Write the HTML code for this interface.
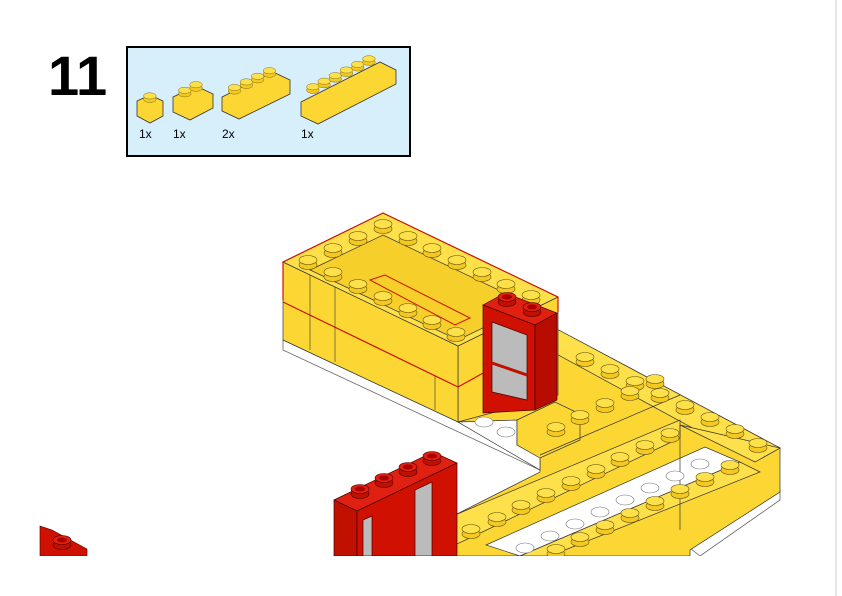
<!DOCTYPE html>
<html><head><style>
html,body{margin:0;padding:0;background:#fff;}
svg{display:block}
text{font-family:"Liberation Sans",sans-serif}
</style></head><body>
<svg width="842" height="596" viewBox="0 0 842 596" xmlns="http://www.w3.org/2000/svg">
<defs>
<g id="s"><rect x="-9" y="-3" width="18" height="5" fill="#f4c821"/><ellipse cx="0" cy="2" rx="9" ry="4.5" fill="#f4c821" stroke="#6b5a10" stroke-width="0.6"/><ellipse cx="0" cy="-3" rx="9" ry="4.5" fill="#fde04a" stroke="#6b5a10" stroke-width="0.6"/></g>
<g id="w"><ellipse cx="0" cy="0" rx="9" ry="5" fill="#fff" stroke="#777" stroke-width="0.6"/></g>
<g id="r"><rect x="-9" y="-3" width="18" height="5" fill="#c01000"/><ellipse cx="0" cy="2" rx="9" ry="4.5" fill="#c01000" stroke="#500" stroke-width="0.6"/><ellipse cx="0" cy="-3" rx="9" ry="4.5" fill="#e02010" stroke="#500" stroke-width="0.6"/><ellipse cx="0" cy="-3" rx="5" ry="2.5" fill="#a00" /></g>
</defs>
<line x1="836" y1="0" x2="836" y2="596" stroke="#ddd" stroke-width="1.5"/>

<text x="48" y="95" font-size="56" font-weight="bold">11</text>
<rect x="127" y="47" width="283" height="109" fill="#d7eefb" stroke="#000" stroke-width="2"/>
<g stroke="#333" stroke-width="0.8" fill="#fcd733">
<polygon points="137,101 150,95 163,101 163,116 150,123 137,116"/>
<polygon points="173,97 196,86 213,94 213,108 190,120 173,112"/>
<polygon points="222,97 273,72 290,80 290,94 239,119 222,111"/>
<polygon points="301,102 380,62 396,70 396,84 318,124 301,116"/>
</g>
<g transform="scale(0.7)">
<use href="#s" x="214" y="140"/><use href="#s" x="264" y="132"/><use href="#s" x="280" y="124"/>
<use href="#s" x="335" y="128"/><use href="#s" x="352" y="120"/><use href="#s" x="368" y="112"/><use href="#s" x="385" y="104"/>
<use href="#s" x="447" y="127"/><use href="#s" x="463" y="119"/><use href="#s" x="479" y="111"/><use href="#s" x="495" y="103"/><use href="#s" x="511" y="95"/><use href="#s" x="527" y="87"/>
</g>
<g font-size="12"><text x="139" y="138">1x</text><text x="173" y="138">1x</text><text x="222" y="138">2x</text><text x="301" y="138">1x</text></g>

<!-- base plate -->
<polygon points="283,340 458,422 540,462 540,470 283,350" fill="#fff" stroke="#666" stroke-width="0.8"/>
<polygon points="690,548 780,490 780,500 700,556" fill="#fff" stroke="#666" stroke-width="0.8"/>

<!-- right structure -->
<g stroke="#333" stroke-width="0.7">
<polygon points="555,328 780,448 780,492 690,550 690,556 455,556 455,515 540,472 540,455 458,420 458,395 555,345" fill="#fcd733"/>
<polygon points="555,328 780,448 755,462 540,345" fill="#fde04a"/>
<polygon points="680,425 780,448 755,462" fill="#fde04a"/>
<polygon points="455,515 680,420 680,438 455,545" fill="#fde04a"/>
<polygon points="486,545 705,447 740,462 520,556" fill="#fff"/>
<polygon points="520,556 740,462 760,472 550,556" fill="#fde04a"/>
<polygon points="458,422 517,420 517,445 540,455 540,470" fill="#fff"/>
<polygon points="517,420 555,402 580,414 580,440 540,458 517,445" fill="#fcd733"/>
</g>
<line x1="680" y1="425" x2="680" y2="530" stroke="#333" stroke-width="0.7"/>
<line x1="540" y1="455" x2="680" y2="395" stroke="#333" stroke-width="0.7"/>

<!-- left block -->
<g stroke="#333" stroke-width="0.7">
<polygon points="458,346 558,297 558,395 458,422" fill="#fcd733"/>
<polygon points="283,262 458,346 458,422 283,340" fill="#fcd733"/>
<polygon points="283,262 383,213 558,297 458,346" fill="#fde04a"/>
<polygon points="310,270 383,235 530,305 458,340" fill="#f7cf2a"/>
</g>
<polyline points="283,302 458,387 485,372" fill="none" stroke="#d01000" stroke-width="1.2"/>
<polyline points="283,300 283,262 383,213 558,297 558,312" fill="none" stroke="#d01000" stroke-width="1.2"/>
<polygon points="370,280 385,275 470,318 455,325" fill="none" stroke="#d01000" stroke-width="1"/>
<line x1="310" y1="275" x2="310" y2="350" stroke="#333" stroke-width="0.6"/>
<line x1="335" y1="287" x2="335" y2="362" stroke="#333" stroke-width="0.6"/>
<line x1="435" y1="375" x2="435" y2="410" stroke="#333" stroke-width="0.6"/>

<!-- studs left block -->
<use href="#s" x="308" y="263"/><use href="#s" x="333" y="251"/><use href="#s" x="358" y="239"/><use href="#s" x="383" y="227"/>
<use href="#s" x="408" y="239"/><use href="#s" x="432" y="251"/><use href="#s" x="457" y="263"/><use href="#s" x="482" y="275"/><use href="#s" x="506" y="287"/><use href="#s" x="531" y="298"/>
<use href="#s" x="333" y="275"/><use href="#s" x="358" y="287"/><use href="#s" x="383" y="299"/><use href="#s" x="408" y="311"/><use href="#s" x="432" y="323"/><use href="#s" x="456" y="335"/>

<!-- studs right arm -->
<use href="#s" x="585" y="360"/><use href="#s" x="610" y="372"/><use href="#s" x="635" y="384"/><use href="#s" x="660" y="396"/><use href="#s" x="685" y="408"/><use href="#s" x="710" y="420"/><use href="#s" x="735" y="432"/><use href="#s" x="758" y="446"/>
<use href="#s" x="556" y="430"/><use href="#s" x="580" y="418"/><use href="#s" x="605" y="406"/><use href="#s" x="630" y="394"/><use href="#s" x="655" y="382"/>
<use href="#s" x="471" y="532"/><use href="#s" x="497" y="520"/><use href="#s" x="521" y="508"/><use href="#s" x="546" y="496"/><use href="#s" x="571" y="484"/><use href="#s" x="596" y="472"/><use href="#s" x="620" y="460"/><use href="#s" x="645" y="448"/><use href="#s" x="670" y="436"/>
<use href="#s" x="556" y="552"/><use href="#s" x="580" y="540"/><use href="#s" x="605" y="528"/><use href="#s" x="630" y="516"/><use href="#s" x="655" y="504"/><use href="#s" x="680" y="492"/><use href="#s" x="705" y="480"/><use href="#s" x="730" y="468"/>
<use href="#w" x="525" y="548"/><use href="#w" x="550" y="536"/><use href="#w" x="575" y="524"/><use href="#w" x="600" y="512"/><use href="#w" x="625" y="500"/><use href="#w" x="650" y="488"/><use href="#w" x="675" y="476"/><use href="#w" x="700" y="464"/>
<use href="#w" x="484" y="422"/><use href="#w" x="506" y="432"/>

<!-- door -->
<g stroke="#400" stroke-width="0.7">
<polygon points="483,305 505,293 557,313 535,325" fill="#e02010"/>
<polygon points="483,305 535,325 535,410 483,413" fill="#d01000"/>
<polygon points="535,325 557,313 557,400 535,410" fill="#b80c00"/>
<polygon points="492,322 527,335 527,400 492,392" fill="#bbb"/>
</g>
<line x1="492" y1="363" x2="527" y2="375" stroke="#c01000" stroke-width="3"/>
<use href="#r" x="507" y="300"/><use href="#r" x="532" y="310"/>

<!-- windows bottom -->
<g stroke="#400" stroke-width="0.7">
<polygon points="334,500 433,452 457,463 357,511" fill="#e02010"/>
<polygon points="334,500 357,511 357,556 334,556" fill="#c01000"/>
<polygon points="357,511 457,463 457,556 357,556" fill="#d01000"/>
<polygon points="363,520 372,516 372,556 363,556" fill="#bbb"/>
<polygon points="415,490 432,482 432,556 415,556" fill="#bbb"/>
</g>
<use href="#r" x="360" y="492"/><use href="#r" x="384" y="481"/><use href="#r" x="408" y="470"/><use href="#r" x="432" y="459"/>

<!-- bottom-left red plate -->
<polygon points="40,526 52,530 87,549 87,556 40,556" fill="#d01000" stroke="#400" stroke-width="0.6"/>
<use href="#r" x="62" y="543"/>
<rect x="0" y="556" width="842" height="40" fill="#fff"/>
<line x1="836" y1="556" x2="836" y2="596" stroke="#ddd" stroke-width="1.5"/>
</svg>
</body></html>
